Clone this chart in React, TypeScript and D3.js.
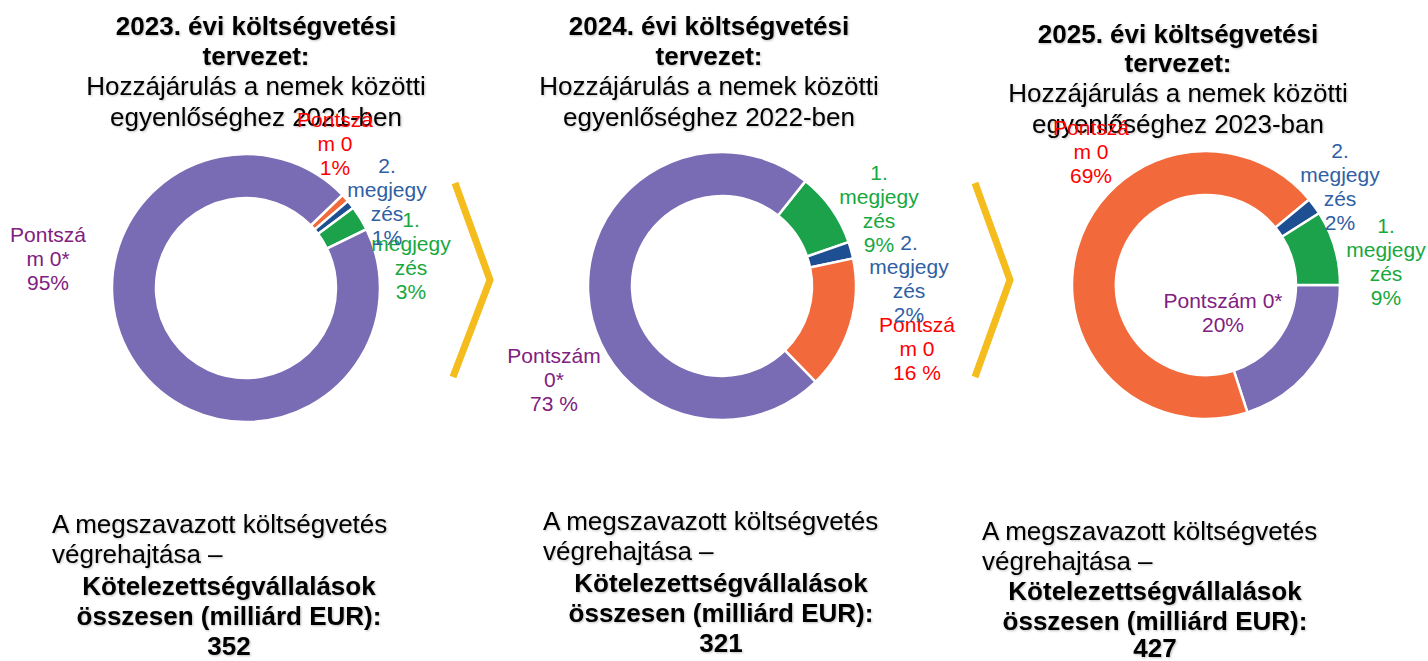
import * as d3 from "d3";

// categories and colours
const categories = ["Pontszám 0*", "Pontszám 0", "1. megjegyzés", "2. megjegyzés"];
const sliceColors = ["#7a6cb4", "#f26a3b", "#1ba24b", "#1f4f93"];
const labelColors = ["#80207f", "#ff0000", "#17a83e", "#2f60a4"];

// shares (%) per budget, in category order
const years = ["2023", "2024", "2025"];
const refYears = ["2021-ben", "2022-ben", "2023-ban"];
const share2023 = [95, 1, 3, 1];
const share2024 = [73, 16, 9, 2];
const share2025 = [20, 69, 9, 2];
const shares = [share2023, share2024, share2025];
const totals = [352, 321, 427];

// clockwise drawing order of slices (category indices) and start angle in degrees
const sliceOrder = [
  [1, 3, 2, 0],
  [2, 3, 1, 0],
  [0, 1, 3, 2],
];
const startDeg = [46, 38.5, 90];

// label text lines per chart, in category order
const labelLines = [
  [["Pontszá", "m 0*", "95%"], ["Pontszá", "m 0", "1%"], ["1.", "megjegy", "zés", "3%"], ["2.", "megjegy", "zés", "1%"]],
  [["Pontszám", "0*", "73 %"], ["Pontszá", "m 0", "16 %"], ["1.", "megjegy", "zés", "9%"], ["2.", "megjegy", "zés", "2%"]],
  [["Pontszám 0*", "20%"], ["Pontszá", "m 0", "69%"], ["1.", "megjegy", "zés", "9%"], ["2.", "megjegy", "zés", "2%"]],
];

// layout (positions only)
const layout = [
  {
    cx: 246, cy: 288, titleX: 256, titleY: [35, 65, 95, 126],
    botLeft: 52, botX: 229, botY: [533, 563, 595, 625, 655],
    labels: [[48, 242], [335, 127], [411, 227], [387, 173]],
  },
  {
    cx: 722, cy: 286, titleX: 709, titleY: [35, 65, 95, 126],
    botLeft: 543, botX: 721, botY: [530, 560, 592, 622, 652],
    labels: [[554, 363], [917, 332], [879, 180], [909, 250]],
  },
  {
    cx: 1206, cy: 285, titleX: 1178, titleY: [43, 72, 102, 133],
    botLeft: 982, botX: 1155, botY: [540, 570, 600, 630, 657],
    labels: [[1223, 308], [1091, 135], [1386, 233], [1340, 158]],
  },
];
const chevrons = [
  [[455, 183], [490, 280], [453, 377]],
  [[975, 183], [1010, 280], [975, 377]],
];

const W = 1428;
const H = 661;
const font = "'Liberation Sans', Arial, sans-serif";
const rOuter = 134;
const rInner = 90;

function Donut({ i }: { i: number }) {
  const L = layout[i];
  const start = (startDeg[i] * Math.PI) / 180;
  const data = sliceOrder[i].map((c) => ({ c, v: shares[i][c] }));
  const pie = d3
    .pie<{ c: number; v: number }>()
    .value((d) => d.v)
    .sort(null)
    .startAngle(start)
    .endAngle(start + 2 * Math.PI);
  const arc = d3.arc<d3.PieArcDatum<{ c: number; v: number }>>().innerRadius(rInner).outerRadius(rOuter);
  return (
    <g>
      <g transform={`translate(${L.cx},${L.cy})`}>
        {pie(data).map((a) => (
          <path key={a.data.c} d={arc(a) || ""} fill={sliceColors[a.data.c]} stroke="#fff" strokeWidth={2.5} />
        ))}
      </g>
      <g fontFamily={font} fill="#000" filter="url(#shadow)">
        <text x={L.titleX} y={L.titleY[0]} fontSize={26} fontWeight="bold" textAnchor="middle">
          {years[i]}. évi költségvetési
        </text>
        <text x={L.titleX} y={L.titleY[1]} fontSize={26} fontWeight="bold" textAnchor="middle">
          tervezet:
        </text>
        <text x={L.titleX} y={L.titleY[2]} fontSize={26} textAnchor="middle">
          Hozzájárulás a nemek közötti
        </text>
        <text x={L.titleX} y={L.titleY[3]} fontSize={26} textAnchor="middle">
          egyenlőséghez {refYears[i]}
        </text>
        <text x={L.botLeft} y={L.botY[0]} fontSize={26}>
          A megszavazott költségvetés
        </text>
        <text x={L.botLeft} y={L.botY[1]} fontSize={26}>
          végrehajtása –
        </text>
        <text x={L.botX} y={L.botY[2]} fontSize={26} fontWeight="bold" textAnchor="middle">
          Kötelezettségvállalások
        </text>
        <text x={L.botX} y={L.botY[3]} fontSize={26} fontWeight="bold" textAnchor="middle">
          összesen (milliárd EUR):
        </text>
        <text x={L.botX} y={L.botY[4]} fontSize={26} fontWeight="bold" textAnchor="middle">
          {totals[i]}
        </text>
      </g>
      <g fontFamily={font} fontSize={21} textAnchor="middle">
        {categories.map((cat, c) => (
          <text key={cat} x={L.labels[c][0]} y={L.labels[c][1]} fill={labelColors[c]}>
            {labelLines[i][c].map((ln, k) => (
              <tspan key={k} x={L.labels[c][0]} dy={k === 0 ? 0 : 24}>
                {ln}
              </tspan>
            ))}
          </text>
        ))}
      </g>
    </g>
  );
}

export default function App() {
  const line = d3.line();
  return (
    <svg width={W} height={H} style={{ position: "absolute", left: 0, top: 0, background: "#fff" }}>
      <defs>
        <filter id="shadow" x="-5%" y="-20%" width="110%" height="140%">
          <feDropShadow dx={1} dy={1} stdDeviation={0.8} floodColor="#000" floodOpacity={0.25} />
        </filter>
      </defs>
      <rect width={W} height={H} fill="#fff" />
      {chevrons.map((pts, k) => (
        <path
          key={k}
          d={line(pts as [number, number][]) || ""}
          fill="none"
          stroke="#f4bc1c"
          strokeWidth={7}
          strokeLinejoin="miter"
        />
      ))}
      {years.map((_, i) => (
        <Donut key={i} i={i} />
      ))}
    </svg>
  );
}
